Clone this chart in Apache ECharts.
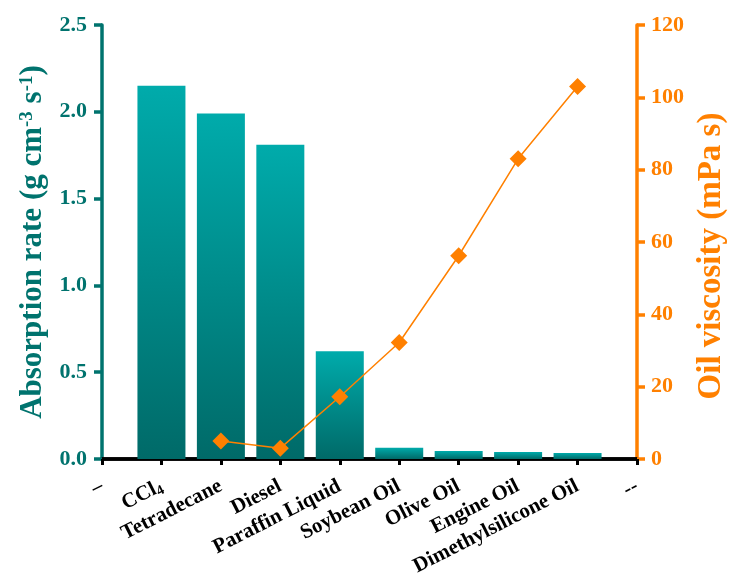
<!DOCTYPE html>
<html>
<head>
<meta charset="utf-8">
<script src="https://cdn.jsdelivr.net/npm/echarts@6/dist/echarts.min.js"></script>
<style>html,body{margin:0;padding:0;background:#fff}#c{width:729px;height:588px}</style>
</head>
<body>
<div id="c"></div>
<script>
var categories = ['–', 'CCl4', 'Tetradecane', 'Diesel', 'Paraffin Liquid', 'Soybean Oil', 'Olive Oil', 'Engine Oil', 'Dimethylsilicone Oil', '--'];
var absorptionRate = [null, 2.15, 1.99, 1.81, 0.62, 0.065, 0.046, 0.04, 0.035, null];
var viscosity = [null, null, 5, 3, 17.2, 32.2, 56.2, 83, 103, null];
var leftTicks = [0, 0.5, 1.0, 1.5, 2.0, 2.5];
var rightTicks = [0, 20, 40, 60, 80, 100, 120];

var TEAL = '#00736e';
var ORANGE = '#ff8000';
var FONT = '"Liberation Serif", "Times New Roman", serif';

var chart = echarts.init(document.getElementById('c'), null, {renderer: 'canvas'});
chart.setOption({
  animation: false,
  backgroundColor: '#fff',
  grid: {left: 102, right: 92, top: 25, bottom: 129, containLabel: false, outerBoundsMode: 'none'},
  xAxis: [{
    type: 'category',
    data: categories,
    boundaryGap: false,
    axisLine: {lineStyle: {color: '#000', width: 3.5}},
    axisTick: {show: true, length: 6, lineStyle: {color: '#000', width: 3}},
    axisLabel: {
      interval: 0, rotate: 27, margin: 26,
      fontFamily: FONT, fontWeight: 'bold', fontSize: 21, color: '#000',
      formatter: function (v) { return v === 'CCl4' ? '{n|CCl}{s|4}' : '{n|' + v + '}'; },
      rich: {
        n: {fontFamily: FONT, fontWeight: 'bold', fontSize: 21, color: '#000'},
        s: {fontFamily: FONT, fontWeight: 'bold', fontSize: 14, color: '#000', verticalAlign: 'bottom', padding: [10, 0, 0, 0]}
      }
    },
    splitLine: {show: false}
  }, {
    type: 'category',
    data: categories,
    position: 'top',
    boundaryGap: false,
    axisLine: {lineStyle: {color: '#000', width: 3.5}},
    axisTick: {show: false},
    axisLabel: {show: false},
    splitLine: {show: false}
  }],
  yAxis: [{
    type: 'value',
    min: leftTicks[0], max: leftTicks[leftTicks.length - 1], interval: 0.5,
    position: 'left',
    name: '{t|Absorption rate (g cm}{p|-3}{t| s}{p|-1}{t|)}',
    nameLocation: 'middle', nameRotate: 90, nameGap: 52,
    nameTextStyle: {
      rich: {
        t: {fontFamily: FONT, fontWeight: 'bold', fontSize: 31, color: TEAL},
        p: {fontFamily: FONT, fontWeight: 'bold', fontSize: 19, color: TEAL, verticalAlign: 'top', padding: [0, 0, 12, 0]}
      }
    },
    axisLine: {show: true, lineStyle: {color: TEAL, width: 3.5}},
    axisTick: {show: true, length: 8, lineStyle: {color: TEAL, width: 3.5}},
    axisLabel: {
      margin: 15, fontFamily: FONT, fontWeight: 'bold', fontSize: 22, color: TEAL,
      formatter: function (v) { return v.toFixed(1); }
    },
    splitLine: {show: false}
  }, {
    type: 'value',
    min: rightTicks[0], max: rightTicks[rightTicks.length - 1], interval: 20,
    position: 'right',
    name: 'Oil viscosity (mPa s)',
    nameLocation: 'middle', nameRotate: 90, nameGap: 55,
    nameTextStyle: {fontFamily: FONT, fontWeight: 'bold', fontSize: 33, color: ORANGE, padding: [0, 28, 0, 0]},
    axisLine: {show: true, lineStyle: {color: ORANGE, width: 3.5}},
    axisTick: {show: true, length: 8, lineStyle: {color: ORANGE, width: 3.5}},
    axisLabel: {margin: 14, fontFamily: FONT, fontWeight: 'bold', fontSize: 22, color: ORANGE},
    splitLine: {show: false}
  }],
  series: [{
    type: 'bar',
    data: absorptionRate,
    xAxisIndex: 0, yAxisIndex: 0,
    barWidth: 48,
    itemStyle: {
      color: new echarts.graphic.LinearGradient(0, 0, 0, 1, [
        {offset: 0, color: '#00abab'},
        {offset: 1, color: '#006a68'}
      ])
    },
    z: 2
  }, {
    type: 'line',
    data: viscosity,
    xAxisIndex: 0, yAxisIndex: 1,
    symbol: 'diamond', symbolSize: 17,
    lineStyle: {color: ORANGE, width: 1.5},
    itemStyle: {color: ORANGE},
    z: 3
  }]
});
</script>
</body>
</html>
